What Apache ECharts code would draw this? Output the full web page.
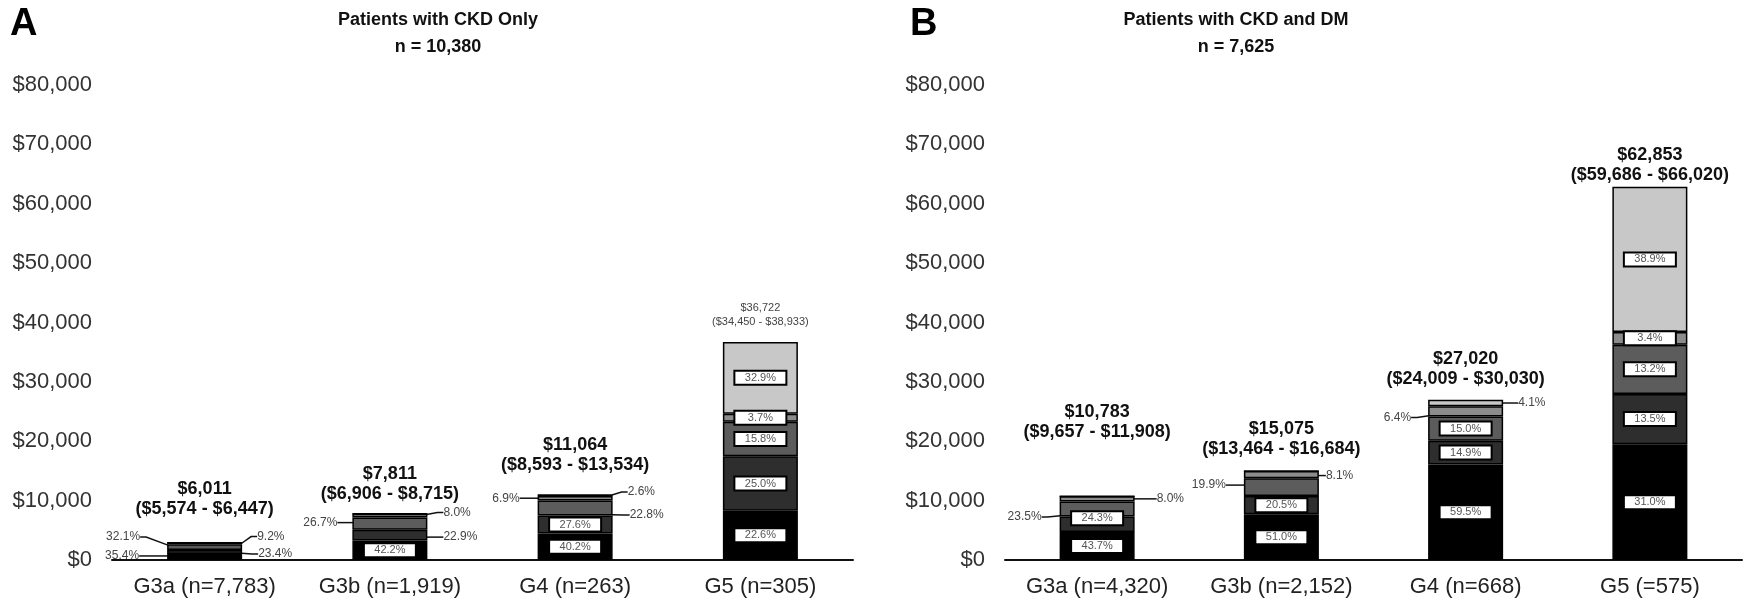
<!DOCTYPE html>
<html>
<head>
<meta charset="utf-8">
<title>CKD cost by eGFR stage</title>
<script src="https://cdn.jsdelivr.net/npm/echarts@6/dist/echarts.min.js"></script>
<style>
  html, body { margin: 0; padding: 0; background: #fff; }
  #chart { width: 1750px; height: 599px; }
</style>
</head>
<body>
<div id="chart"></div>
<script>
// A = CKD only, B = CKD and DM
const stagesA = ['G3a (n=7,783)', 'G3b (n=1,919)', 'G4 (n=263)', 'G5 (n=305)']
const stagesB = ['G3a (n=4,320)', 'G3b (n=2,152)', 'G4 (n=668)', 'G5 (=575)']

// stacked bar height as drawn (G3a in A is drawn short in the original)
const barTotalA = [2900, 7811, 11064, 36722]
const barTotalB = [10783, 15075, 27020, 62853]

const meanLabelA = ['$6,011', '$7,811', '$11,064', '$36,722']
const rangeLabelA = ['($5,574 - $6,447)', '($6,906 - $8,715)', '($8,593 - $13,534)', '($34,450 - $38,933)']
const meanLabelB = ['$10,783', '$15,075', '$27,020', '$62,853']
const rangeLabelB = ['($9,657 - $11,908)', '($13,464 - $16,684)', '($24,009 - $30,030)', '($59,686 - $66,020)']

// share of cost (%) per component, bottom of the stack first
const share1A = [35.4, 42.2, 40.2, 22.6]
const share2A = [23.4, 22.9, 27.6, 25.0]
const share3A = [32.1, 26.7, 22.8, 15.8]
const share4A = [9.2, 8.0, 6.9, 3.7]
const share5A = [0, 0, 2.6, 32.9]

const share1B = [43.7, 51.0, 59.5, 31.0]
const share2B = [24.3, 20.5, 14.9, 13.5]
const share3B = [23.5, 19.9, 15.0, 13.2]
const share4B = [8.0, 8.1, 6.4, 3.4]
const share5B = [0, 0, 4.1, 38.9]

// where each % label sits: 'in' = boxed inside, or [side, distance, dy]
const pctPosA = [
  [['L', 28, -1], 'in', 'in', 'in'],
  [['R', 16, 2], ['R', 16, 2], 'in', 'in'],
  [['L', 27, -10], ['L', 15, -1], ['R', 17, 7], 'in'],
  [['R', 15, -7], ['R', 16, -3], ['L', 18, 0], 'in'],
  [null, null, ['R', 15, -3], 'in']
]
const pctPosB = [
  ['in', 'in', 'in', 'in'],
  [['in', 0, -6], 'in', 'in', 'in'],
  [['L', 18, 8], ['L', 18, -2], 'in', 'in'],
  [['R', 22, 0], ['R', 7, 1], ['L', 17, 6], 'in'],
  [null, null, ['R', 15, 0], 'in']
]
const topGapA = [24, 10, 19, 13]
const topGapB = [54, 12, 11, 2]

const segColors = ['#000000', '#2e2e2e', '#5c5c5c', '#8c8c8c', '#c8c8c8']
const font = '"Liberation Sans", Arial, sans-serif'

function pctLabel(p, spec) {
  const text = p.toFixed(1) + '%'
  if (spec === 'in' || spec[0] === 'in') {
    return {
      show: true,
      position: 'inside',
      offset: spec === 'in' ? [0, 0] : [spec[1], spec[2]],
      formatter: text,
      backgroundColor: '#fff',
      borderColor: '#000',
      borderWidth: 2,
      width: 46,
      align: 'center',
      padding: [1, 2],
      fontSize: 11,
      lineHeight: 10,
      color: '#555'
    }
  }
  const left = spec[0] === 'L'
  return {
    show: true,
    position: left ? 'left' : 'right',
    align: left ? 'right' : 'left',
    verticalAlign: 'middle',
    distance: spec[1],
    offset: [0, spec[2]],
    formatter: text,
    fontSize: 12,
    color: '#444'
  }
}

function buildPanel(idx, totals, shares, pos, means, ranges, gaps) {
  const list = shares.map((share, s) => ({
    type: 'bar',
    name: 'part' + (s + 1),
    xAxisIndex: idx,
    yAxisIndex: idx,
    stack: 'panel' + idx,
    barWidth: 75,
    itemStyle: { color: segColors[s], borderColor: '#000', borderWidth: 1.5 },
    data: share.map((p, i) => {
      const item = { value: totals[i] * p / 100 }
      const spec = pos[s][i]
      if (spec) {
        item.label = pctLabel(p, spec)
        if (spec !== 'in' && spec[0] !== 'in') {
          item.labelLine = { show: true, length2: 6, lineStyle: { color: '#111', width: 1.5 } }
        }
      }
      return item
    })
  }))
  // empty bar on top of the stack carrying the mean + range text
  list.push({
    type: 'bar',
    name: 'total',
    xAxisIndex: idx,
    yAxisIndex: idx,
    stack: 'panel' + idx,
    barWidth: 75,
    silent: true,
    itemStyle: { color: 'transparent', borderWidth: 0 },
    data: totals.map((t, i) => {
      const small = idx === 0 && i === 3
      return {
        value: 0,
        label: {
          show: true,
          position: 'top',
          distance: gaps[i],
          formatter: means[i] + '\n' + ranges[i],
          fontSize: small ? 11 : 18,
          lineHeight: small ? 14 : 20,
          fontWeight: small ? 'normal' : 'bold',
          color: small ? '#444' : '#111'
        }
      }
    })
  })
  return list
}

const chart = echarts.init(document.getElementById('chart'))

const xAxisBase = {
  type: 'category',
  axisLine: { lineStyle: { color: '#111', width: 2 } },
  axisTick: { show: false },
  axisLabel: { interval: 0, fontSize: 22, color: '#222', margin: 16 }
}
const yAxisBase = {
  type: 'value',
  min: 0,
  max: 80000,
  interval: 10000,
  splitLine: { show: false },
  axisLine: { show: false },
  axisTick: { show: false },
  axisLabel: {
    fontSize: 22,
    color: '#333',
    margin: 20,
    padding: [0, 0, 16, 0],
    formatter: v => '$' + v.toLocaleString('en-US')
  }
}

const option = {
  animation: false,
  textStyle: { fontFamily: font },
  grid: [
    { left: 112, top: 85, width: 741, height: 475 },
    { left: 1005, top: 85, width: 737, height: 475 }
  ],
  xAxis: [
    Object.assign({}, xAxisBase, { gridIndex: 0, data: stagesA }),
    Object.assign({}, xAxisBase, { gridIndex: 1, data: stagesB })
  ],
  yAxis: [
    Object.assign({}, yAxisBase, { gridIndex: 0 }),
    Object.assign({}, yAxisBase, { gridIndex: 1 })
  ],
  graphic: [
    { type: 'text', left: 10, top: 6, style: { text: 'A', fontSize: 38, fontWeight: 'bold', fontFamily: font, fill: '#000' } },
    { type: 'text', left: 910, top: 6, style: { text: 'B', fontSize: 38, fontWeight: 'bold', fontFamily: font, fill: '#000' } },
    {
      type: 'text', x: 438, y: 7,
      style: { text: 'Patients with CKD Only\nn = 10,380', align: 'center', verticalAlign: 'top', lineHeight: 27, fontSize: 18, fontWeight: 'bold', fontFamily: font, fill: '#111' }
    },
    {
      type: 'text', x: 1236, y: 7,
      style: { text: 'Patients with CKD and DM\nn = 7,625', align: 'center', verticalAlign: 'top', lineHeight: 27, fontSize: 18, fontWeight: 'bold', fontFamily: font, fill: '#111' }
    }
  ],
  series: [
    ...buildPanel(0, barTotalA, [share1A, share2A, share3A, share4A, share5A], pctPosA, meanLabelA, rangeLabelA, topGapA),
    ...buildPanel(1, barTotalB, [share1B, share2B, share3B, share4B, share5B], pctPosB, meanLabelB, rangeLabelB, topGapB)
  ]
}

chart.setOption(option)
window.addEventListener('resize', () => chart.resize())
</script>
</body>
</html>
